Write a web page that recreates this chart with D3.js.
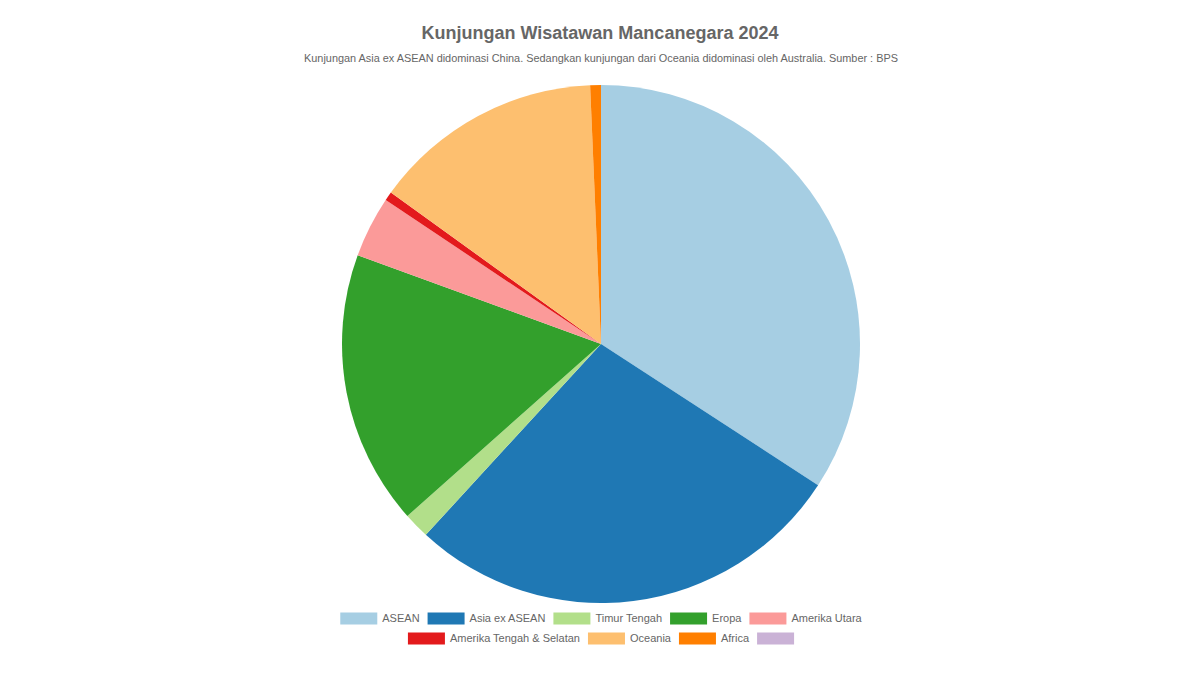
<!DOCTYPE html>
<html>
<head>
<meta charset="utf-8">
<script src="https://cdn.jsdelivr.net/npm/d3@7"></script>
<style>
  body { margin: 0; background: #fff; }
  svg { display: block; font-family: "Liberation Sans", Arial, sans-serif; }
</style>
</head>
<body>
<svg id="pie-chart"></svg>
<script>
// Regions and visits (thousands)
var categories = ["ASEAN", "Asia ex ASEAN", "Timur Tengah", "Eropa", "Amerika Utara",
                  "Amerika Tengah & Selatan", "Oceania", "Africa", ""];
var visits = [4750, 3840, 225, 2380, 530, 77, 2000, 93, 0];
var colors = ["#a6cee3", "#1f78b4", "#b2df8a", "#33a02c", "#fb9a99",
              "#e31a1c", "#fdbf6f", "#ff7f00", "#cab2d6"];

var data = categories.map(function(c, i) { return { category: c, count: visits[i] }; });

var width = 1200, height = 675;
var cx = 601, cy = 344, radius = 259;

var svg = d3.select("#pie-chart")
    .attr("width", width)
    .attr("height", height);

// Title and subtitle
svg.append("text")
    .attr("x", width / 2).attr("y", 39)
    .attr("text-anchor", "middle")
    .attr("font-size", 18).attr("font-weight", "bold")
    .attr("fill", "#666")
    .text("Kunjungan Wisatawan Mancanegara 2024");

svg.append("text")
    .attr("x", width / 2 + 1).attr("y", 62)
    .attr("text-anchor", "middle")
    .attr("font-size", 10.9)
    .attr("fill", "#666")
    .text("Kunjungan Asia ex ASEAN didominasi China. Sedangkan kunjungan dari Oceania didominasi oleh Australia. Sumber : BPS");

var color = d3.scaleOrdinal().domain(categories).range(colors);

var pie = d3.pie()
    .sort(null)
    .value(function(d) { return d.count; });

var arc = d3.arc()
    .innerRadius(0)
    .outerRadius(radius);

var g = svg.append("g")
    .attr("transform", "translate(" + cx + "," + cy + ")");

g.selectAll(".arc")
    .data(pie(data))
    .enter().append("path")
    .attr("class", "arc")
    .attr("d", arc)
    .attr("fill", function(d) { return color(d.data.category); });

// Legend, two centred rows like the original
var rows = [[0, 1, 2, 3, 4], [5, 6, 7, 8]];
var boxW = 37, boxH = 12, gapText = 5, itemPad = 8, fontSize = 11;
var legendCenter = 601;
var legend = svg.append("g").attr("font-size", fontSize).attr("fill", "#666");

var measure = svg.append("text").attr("font-size", fontSize).attr("visibility", "hidden");
function textW(s) {
    measure.text(s);
    return s ? measure.node().getComputedTextLength() : 0;
}

rows.forEach(function(row, r) {
    var widths = row.map(function(i) {
        return boxW + (categories[i] ? gapText + textW(categories[i]) : 0);
    });
    var total = d3.sum(widths) + itemPad * (row.length - 1);
    var x = legendCenter - total / 2;
    var y = 612.5 + r * 20;
    row.forEach(function(i, k) {
        legend.append("rect")
            .attr("x", x).attr("y", y)
            .attr("width", boxW).attr("height", boxH)
            .attr("fill", colors[i]);
        legend.append("text")
            .attr("x", x + boxW + gapText).attr("y", y + boxH / 2)
            .attr("dy", "0.35em")
            .text(categories[i]);
        x += widths[k] + itemPad;
    });
});
measure.remove();
</script>
</body>
</html>
